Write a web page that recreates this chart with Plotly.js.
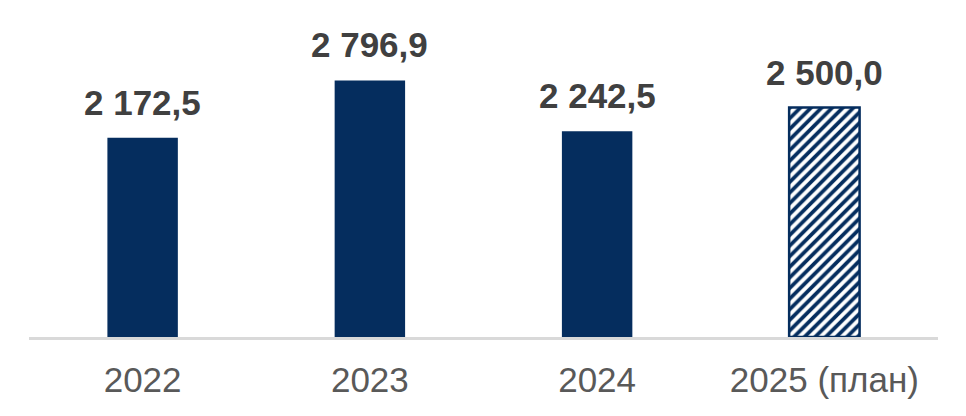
<!DOCTYPE html>
<html>
<head>
<meta charset="utf-8">
<script src="https://cdn.plot.ly/plotly-3.0.1.min.js"></script>
<style>html,body{margin:0;padding:0;background:#fff;}#chart{width:966px;height:416px;}</style>
</head>
<body>
<div id="chart"></div>
<script>
const categories = ["2022", "2023", "2024", "2025 (план)"];
const values = [2172.5, 2796.9, 2242.5, 2500.0];
const isPlan = [false, false, false, true];

const navy = "#052d5e";

function fmt(v) {
  const parts = v.toFixed(1).split(".");
  const intPart = parts[0].replace(/\B(?=(\d{3})+(?!\d))/g, " ");
  return intPart + "," + parts[1];
}

const factX = categories.filter((c, i) => !isPlan[i]);
const factY = values.filter((v, i) => !isPlan[i]);
const planX = categories.filter((c, i) => isPlan[i]);
const planY = values.filter((v, i) => isPlan[i]);

const factTrace = {
  type: "bar",
  x: factX,
  y: factY,
  width: 0.31,
  marker: { color: navy, line: { width: 0 } },
  hoverinfo: "none"
};

const planTrace = {
  type: "bar",
  x: planX,
  y: planY,
  width: 0.31,
  marker: {
    color: "#ffffff",
    line: { color: navy, width: 2.5 },
    pattern: {
      shape: "/",
      fgcolor: navy,
      fgopacity: 1,
      bgcolor: "#ffffff",
      size: 7.5,
      solidity: 0.5,
      fillmode: "overlay"
    }
  },
  hoverinfo: "none"
};

// category axis: annotation x given as category index
const annotations = categories.map((c, i) => ({
  x: i,
  y: values[i],
  xref: "x",
  yref: "y",
  text: "<b>" + fmt(values[i]) + "</b>",
  showarrow: false,
  yanchor: "bottom",
  yshift: 14,
  font: { family: "Liberation Sans, Arial, sans-serif", size: 35, color: "#404040" }
}));

const layout = {
  width: 966,
  height: 416,
  margin: { l: 29, r: 28, t: 20, b: 79 },
  paper_bgcolor: "#ffffff",
  plot_bgcolor: "#ffffff",
  showlegend: false,
  barmode: "overlay",
  xaxis: {
    type: "category",
    categoryorder: "array",
    categoryarray: categories,
    range: [-0.5, 3.5],
    showline: true,
    linecolor: "#d9d9d9",
    linewidth: 2.5,
    ticks: "",
    showgrid: false,
    zeroline: false,
    tickfont: { family: "Liberation Sans, Arial, sans-serif", size: 35, color: "#595959" },
    ticklabelstandoff: 10
  },
  yaxis: {
    visible: false,
    range: [0, 3455],
    showgrid: false,
    zeroline: false
  },
  annotations: annotations
};

Plotly.newPlot("chart", [factTrace, planTrace], layout, { staticPlot: true, displayModeBar: false });
</script>
</body>
</html>
